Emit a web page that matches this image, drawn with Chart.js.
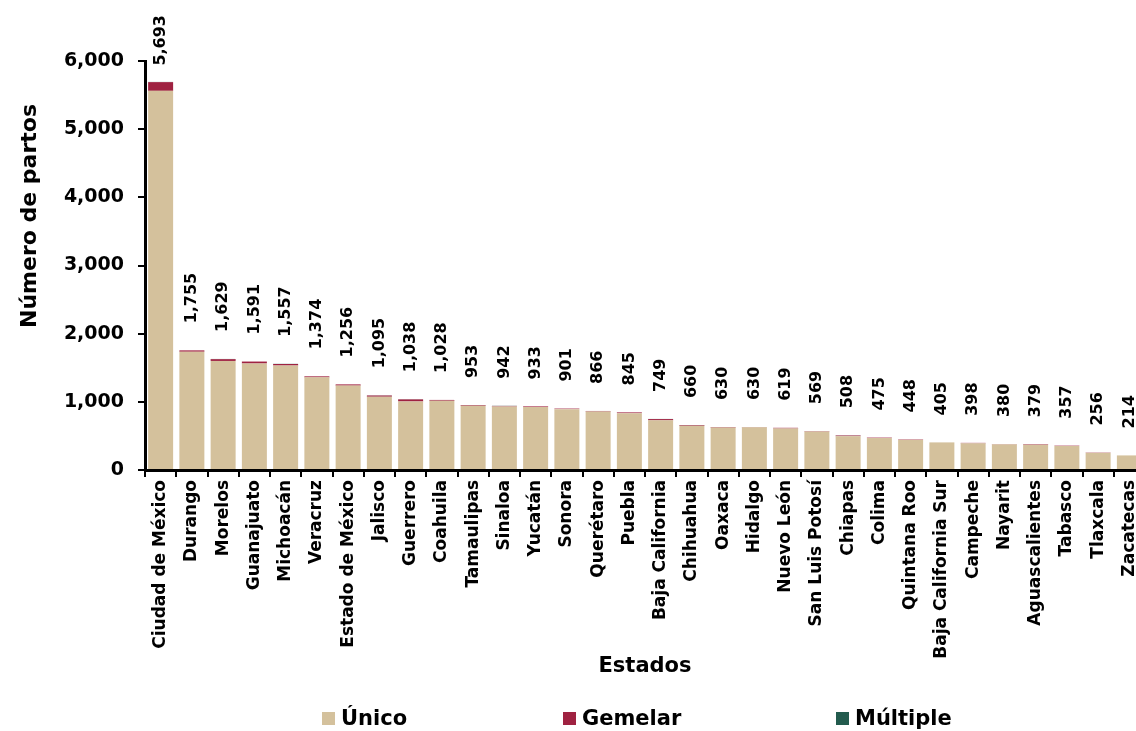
<!DOCTYPE html>
<html>
<head>
<meta charset="utf-8">
<script src="https://cdn.jsdelivr.net/npm/chart.js@4"></script>
<style>
  html, body { margin: 0; padding: 0; background: #fff; overflow: hidden; width: 1136px; height: 731px; }
  #wrap { position: absolute; left: 0; top: 0; width: 1154px; height: 731px; }
  #legend { position: absolute; top: 705px; left: 0; width: 1136px; height: 26px; font-family: "DejaVu Sans", sans-serif; font-weight: bold; font-size: 21px; color: #000; }
  .item { position: absolute; top: 0; display: flex; align-items: center; height: 26px; }
  .box { width: 13px; height: 13px; margin-right: 6px; }
</style>
</head>
<body>
<div id="wrap"><canvas id="c" width="1154" height="731"></canvas></div>
<div id="legend"></div>
<script>
const categories = ["Ciudad de México","Durango","Morelos","Guanajuato","Michoacán","Veracruz","Estado de México","Jalisco","Guerrero","Coahuila","Tamaulipas","Sinaloa","Yucatán","Sonora","Querétaro","Puebla","Baja California","Chihuahua","Oaxaca","Hidalgo","Nuevo León","San Luis Potosí","Chiapas","Colima","Quintana Roo","Baja California Sur","Campeche","Nayarit","Aguascalientes","Tabasco","Tlaxcala","Zacatecas"];
const totals   = [5693,1755,1629,1591,1557,1374,1256,1095,1038,1028,953,942,933,901,866,845,749,660,630,630,619,569,508,475,448,405,398,380,379,357,256,214];
const unico    = [5562,1735,1600,1563,1533,1359,1238,1075,1006,1016,942,932,923,893,858,833,729,648,622,626,610,563,496,469,442,405,392,376,371,352,252,214];
const gemelar  = [128,20,26,28,22,15,18,18,30,12,10,8,10,8,8,12,18,10,8,4,9,6,10,6,6,0,6,4,8,5,4,0];
const multiple = [3,0,3,0,2,0,0,2,2,0,1,2,0,0,0,0,2,2,0,0,0,0,2,0,0,0,0,0,0,0,0,0];
const yTicks = [0,1000,2000,3000,4000,5000,6000];
const seriesNames = ["Único","Gemelar","Múltiple"];
const colors = ["#D4C19C","#9F2241","#235B4E"];

const FONT = '"DejaVu Sans", sans-serif';
const fmt = v => v.toLocaleString('en-US');

const totalLabels = {
  id: 'totalLabels',
  afterDatasetsDraw(chart) {
    const ctx = chart.ctx;
    const y = chart.scales.y, x = chart.scales.x;
    ctx.save();
    ctx.font = 'bold 16px ' + FONT;
    ctx.fillStyle = '#000';
    ctx.textAlign = 'left';
    ctx.textBaseline = 'middle';
    totals.forEach((t, i) => {
      const txt = fmt(t);
      const w = ctx.measureText(txt).width;
      const px = x.getPixelForValue(i);
      let bottom = y.getPixelForValue(t) - 27;
      if (bottom - w < 15) bottom = 15 + w;
      ctx.save();
      ctx.translate(px, bottom);
      ctx.rotate(-Math.PI / 2);
      ctx.fillText(txt, 0, 0);
      ctx.restore();
    });
    ctx.restore();
  }
};

const yTitle = {
  id: 'yTitle',
  afterDraw(chart) {
    const ctx = chart.ctx;
    ctx.save();
    ctx.font = 'bold 22px ' + FONT;
    ctx.fillStyle = '#000';
    ctx.textAlign = 'center';
    ctx.textBaseline = 'middle';
    ctx.translate(30, 216);
    ctx.rotate(-Math.PI / 2);
    ctx.fillText('Número de partos', 0, 0);
    ctx.restore();
  }
};

new Chart(document.getElementById('c'), {
  type: 'bar',
  data: {
    labels: categories,
    datasets: [
      { label: seriesNames[0], data: unico, backgroundColor: colors[0] },
      { label: seriesNames[1], data: gemelar, backgroundColor: colors[1] },
      { label: seriesNames[2], data: multiple, backgroundColor: colors[2] }
    ]
  },
  options: {
    responsive: false,
    animation: false,
    layout: { padding: { top: 61, left: 0, right: 9, bottom: 0 } },
    datasets: { bar: { barPercentage: 0.8, categoryPercentage: 1.0 } },
    plugins: { legend: { display: false }, tooltip: { enabled: false } },
    scales: {
      x: {
        stacked: true,
        afterFit: s => { s.height = 261; },
        grid: { drawOnChartArea: false, color: '#000', lineWidth: 2, tickLength: 7, offset: true },
        border: { color: '#000', width: 3 },
        ticks: { color: '#000', font: { family: FONT, weight: 'bold', size: 17 }, maxRotation: 90, minRotation: 90, autoSkip: false, padding: 3 },
        title: { display: true, text: 'Estados', color: '#000', font: { family: FONT, weight: 'bold', size: 21 }, padding: { top: 0, bottom: 52 } }
      },
      y: {
        stacked: true,
        min: 0, max: 6000,
        afterFit: s => { s.width = 145; },
        afterBuildTicks: s => { s.ticks = yTicks.map(v => ({ value: v })); },
        grid: { drawOnChartArea: false, color: '#000', lineWidth: 2, tickLength: 7 },
        border: { color: '#000', width: 3 },
        ticks: { color: '#000', font: { family: FONT, weight: 'bold', size: 19 }, padding: 14, callback: v => fmt(v) }
      }
    }
  },
  plugins: [totalLabels, yTitle]
});

// HTML legend
const legendPos = [322, 563, 836];
const lg = document.getElementById('legend');
seriesNames.forEach((n, i) => {
  const d = document.createElement('div');
  d.className = 'item';
  d.style.left = legendPos[i] + 'px';
  d.innerHTML = '<div class="box" style="background:' + colors[i] + '"></div><span>' + n + '</span>';
  lg.appendChild(d);
});
</script>
</body>
</html>
